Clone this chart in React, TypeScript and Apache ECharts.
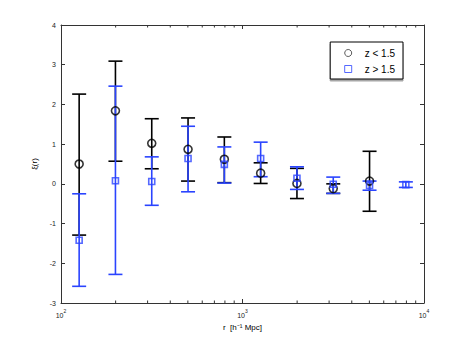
import React, { useEffect, useRef } from "react";
import * as echarts from "echarts";

const rValues = [125.9, 199.5, 316.2, 501.2, 794.3, 1258.9, 1995.3, 3162.3, 5011.9, 7943.3];

const lowZName = "z < 1.5";
const lowZ = [0.5, 1.84, 1.02, 0.87, 0.62, 0.27, 0.01, -0.12, 0.07];
const lowZLo = [-1.29, 0.57, 0.38, 0.07, 0.03, 0.01, -0.37, -0.24, -0.69];
const lowZHi = [2.26, 3.09, 1.64, 1.66, 1.18, 0.53, 0.39, 0.0, 0.82];

const highZName = "z > 1.5";
const highZ = [-1.42, 0.08, 0.06, 0.64, 0.49, 0.64, 0.14, -0.01, -0.04, -0.02];
const highZLo = [-2.58, -2.28, -0.54, -0.2, 0.02, 0.18, -0.14, -0.24, -0.16, -0.09];
const highZHi = [-0.25, 2.46, 0.68, 1.45, 0.93, 1.05, 0.43, 0.17, 0.07, 0.05];

const minorTickValues = [200, 300, 400, 500, 600, 700, 800, 900, 2000, 3000, 4000, 5000, 6000, 7000, 8000, 9000];

const BLACK = "#000000";
const BLUE = "#2a44ff";
const FONT = "Liberation Sans, Arial, sans-serif";

function errorBarSeries(name: string, lo: number[], hi: number[], color: string) {
  const data = lo.map((l, i) => [rValues[i], l, hi[i]]);
  return {
    type: "custom",
    name,
    data,
    encode: { x: 0, y: [1, 2] },
    z: 2,
    renderItem: (_params: any, api: any) => {
      const x = api.value(0);
      const p1 = api.coord([x, api.value(1)]);
      const p2 = api.coord([x, api.value(2)]);
      const hw = 7;
      const style = { stroke: color, lineWidth: 1.6 };
      return {
        type: "group",
        children: [
          { type: "line", shape: { x1: p1[0], y1: p1[1], x2: p2[0], y2: p2[1] }, style },
          { type: "line", shape: { x1: p1[0] - hw, y1: p1[1], x2: p1[0] + hw, y2: p1[1] }, style },
          { type: "line", shape: { x1: p2[0] - hw, y1: p2[1], x2: p2[0] + hw, y2: p2[1] }, style },
        ],
      };
    },
  };
}

export default function App() {
  const ref = useRef<HTMLDivElement>(null);
  useEffect(() => {
    if (!ref.current) return;
    const chart = echarts.init(ref.current, undefined, { renderer: "svg" });
    const axisLine = { show: true, onZero: false, lineStyle: { color: "#333", width: 1 } };
    chart.setOption({
      animation: false,
      backgroundColor: "#fff",
      grid: { left: 61, right: 45, top: 25, bottom: 38, containLabel: false },
      legend: {
        data: [
          { name: lowZName, icon: "circle", itemStyle: { color: "transparent", borderColor: "#333", borderWidth: 1 } },
          { name: highZName, icon: "rect", itemStyle: { color: "transparent", borderColor: BLUE, borderWidth: 1 } },
        ],
        orient: "vertical",
        right: 66,
        top: 42,
        itemWidth: 7,
        itemHeight: 7,
        itemGap: 6,
        padding: [6, 8, 5, 14],
        borderColor: "#000",
        borderWidth: 1,
        backgroundColor: "#fff",
        shadowColor: "rgba(0,0,0,0.35)",
        shadowOffsetY: 2,
        shadowBlur: 1,
        textStyle: { fontSize: 10, color: "#000", fontFamily: FONT, padding: [0, 0, 0, 8] },
      },
      xAxis: [
        {
          type: "log",
          logBase: 10,
          min: 100,
          max: 10000,
          position: "bottom",
          axisLine,
          axisTick: { show: true, inside: true, length: 4, lineStyle: { color: "#333" } },
          splitLine: { show: false },
          axisLabel: {
            fontSize: 7,
            color: "#222",
            fontFamily: FONT,
            margin: 5,
            formatter: (v: number) => `{b|10}{s|${Math.round(Math.log10(v))}}`,
            rich: {
              b: { fontSize: 7, fontFamily: FONT, color: "#222", padding: [4, 0, 0, 0] },
              s: { fontSize: 5, fontFamily: FONT, color: "#222", verticalAlign: "top", padding: [0, 0, 4, 0] },
            },
          },
          name: "r  [h\u207B\u00B9 Mpc]",
          nameLocation: "middle",
          nameGap: 18,
          nameTextStyle: { fontSize: 8, color: "#000", fontFamily: FONT },
        },
        {
          type: "log",
          logBase: 10,
          min: 100,
          max: 10000,
          position: "top",
          axisLine,
          axisTick: { show: true, inside: true, length: 4, lineStyle: { color: "#333" } },
          axisLabel: { show: false },
          splitLine: { show: false },
        },
      ],
      yAxis: [
        {
          type: "value",
          min: -3,
          max: 4,
          interval: 1,
          position: "left",
          axisLine,
          axisTick: { show: true, inside: true, length: 4, lineStyle: { color: "#333" } },
          splitLine: { show: false },
          axisLabel: { fontSize: 7, color: "#222", fontFamily: FONT, margin: 5 },
          name: "\u03BE(r)",
          nameLocation: "middle",
          nameGap: 22,
          nameTextStyle: { fontSize: 8, color: "#000", fontFamily: FONT },
        },
        {
          type: "value",
          min: -3,
          max: 4,
          interval: 1,
          position: "right",
          axisLine,
          axisTick: { show: true, inside: true, length: 4, lineStyle: { color: "#333" } },
          axisLabel: { show: false },
          splitLine: { show: false },
        },
      ],
      series: [
        {
          type: "custom",
          name: "minorTicks",
          data: minorTickValues.map((v) => [v, -3, 4]),
          encode: { x: 0, y: [1, 2] },
          silent: true,
          z: 1,
          renderItem: (_params: any, api: any) => {
            const v = api.value(0);
            const b = api.coord([v, api.value(1)]);
            const t = api.coord([v, api.value(2)]);
            const style = { stroke: "#333", lineWidth: 1 };
            return {
              type: "group",
              children: [
                { type: "line", shape: { x1: b[0], y1: b[1], x2: b[0], y2: b[1] - 2.5 }, style },
                { type: "line", shape: { x1: t[0], y1: t[1], x2: t[0], y2: t[1] + 2.5 }, style },
              ],
            };
          },
        },
        errorBarSeries("lowZErr", lowZLo, lowZHi, BLACK),
        errorBarSeries("highZErr", highZLo, highZHi, BLUE),
        {
          type: "scatter",
          name: lowZName,
          data: lowZ.map((v, i) => [rValues[i], v]),
          symbol: "circle",
          symbolSize: 8,
          z: 3,
          itemStyle: { color: "transparent", borderColor: BLACK, borderWidth: 1.6 },
        },
        {
          type: "scatter",
          name: highZName,
          data: highZ.map((v, i) => [rValues[i], v]),
          symbol: "rect",
          symbolSize: 6,
          z: 4,
          itemStyle: { color: "transparent", borderColor: BLUE, borderWidth: 1.6 },
        },
      ],
    });
    return () => chart.dispose();
  }, []);
  return <div ref={ref} style={{ width: 469, height: 341, margin: -8 }} />;
}
